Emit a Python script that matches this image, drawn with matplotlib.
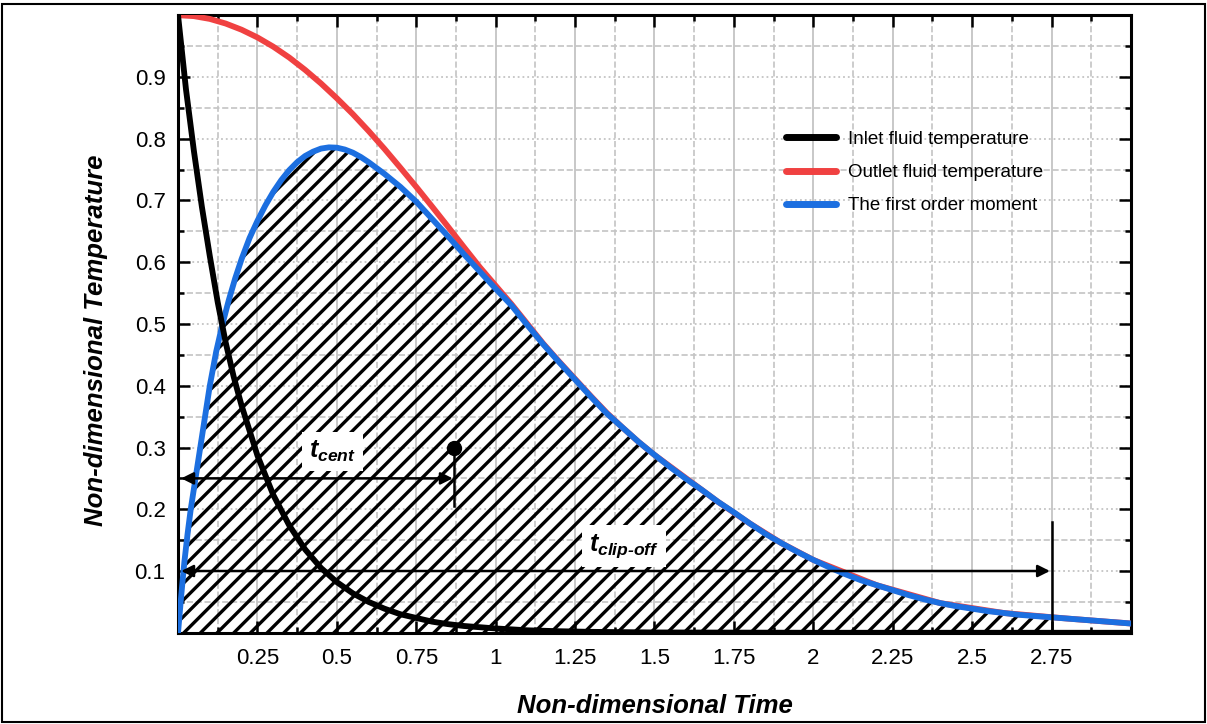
import numpy as np
import matplotlib
matplotlib.use('Agg')
import matplotlib.pyplot as plt
from matplotlib.patches import Rectangle
from matplotlib.ticker import MultipleLocator, FormatStrFormatter

plt.rcParams['font.family'] = ['Liberation Sans', 'DejaVu Sans']
plt.rcParams['mathtext.fontset'] = 'custom'
plt.rcParams['mathtext.it'] = 'Liberation Sans:bold:italic'
plt.rcParams['mathtext.rm'] = 'Liberation Sans:bold:italic'
plt.rcParams['hatch.linewidth'] = 2.4

# inlet fluid temperature (fast decay)
t_inlet = [0.0, 0.025, 0.05, 0.075, 0.1, 0.125, 0.15, 0.175, 0.2, 0.25, 0.3,
           0.35, 0.4, 0.45, 0.5, 0.55, 0.6, 0.65, 0.7, 0.75, 0.8, 0.85, 0.9,
           1.0, 1.1, 1.2, 1.3, 1.5, 2.0, 3.0]
T_inlet = [1.0, 0.88, 0.78, 0.69, 0.61, 0.535, 0.47, 0.415, 0.368, 0.287, 0.223,
           0.174, 0.135, 0.105, 0.082, 0.064, 0.050, 0.039, 0.030, 0.024, 0.018,
           0.014, 0.011, 0.007, 0.004, 0.0025, 0.0015, 0.0005, 0.0, 0.0]

# outlet fluid temperature
t_outlet = [0.0, 0.05, 0.1, 0.15, 0.2, 0.25, 0.3, 0.35, 0.4, 0.45, 0.5, 0.55,
            0.6, 0.65, 0.7, 0.75, 0.8, 0.85, 0.9, 0.95, 1.0, 1.05, 1.1, 1.15,
            1.2, 1.25, 1.3, 1.35, 1.4, 1.45, 1.5, 1.6, 1.7, 1.8, 1.9, 2.0,
            2.2, 2.4, 2.6, 2.8, 3.0]
T_outlet = [1.0, 0.9985, 0.994, 0.9865, 0.9765, 0.964, 0.949, 0.9315, 0.9115,
            0.8895, 0.8655, 0.840, 0.8125, 0.7835, 0.753, 0.722, 0.690, 0.6575,
            0.6245, 0.592, 0.562, 0.532, 0.500, 0.468, 0.439, 0.411, 0.383, 0.356,
            0.332, 0.309, 0.288, 0.250, 0.212, 0.177, 0.145, 0.118, 0.077, 0.048,
            0.032, 0.023, 0.015]

# first order moment
t_moment = [0.0, 0.01, 0.02, 0.03, 0.04, 0.055, 0.07, 0.085, 0.1, 0.12, 0.14,
            0.16, 0.18, 0.2, 0.225, 0.25, 0.275, 0.3, 0.325, 0.35, 0.375, 0.4,
            0.425, 0.45, 0.475, 0.5, 0.525, 0.55, 0.575, 0.6, 0.65, 0.7, 0.75,
            0.8, 0.85, 0.9, 0.95, 1.0, 1.05, 1.1, 1.15, 1.2, 1.25, 1.3, 1.35,
            1.4, 1.45, 1.5, 1.55, 1.6, 1.65, 1.7, 1.75, 1.8, 1.85, 1.9, 1.95,
            2.0, 2.05, 2.1, 2.15, 2.2, 2.25, 2.3, 2.35, 2.4, 2.45, 2.5, 2.55,
            2.6, 2.65, 2.7, 2.75, 2.8, 2.85, 2.9, 2.95, 3.0]
T_moment = [0.0, 0.06, 0.115, 0.16, 0.20, 0.25, 0.30, 0.35, 0.40, 0.455, 0.50,
            0.539, 0.574, 0.605, 0.639, 0.667, 0.692, 0.714, 0.733, 0.749, 0.762,
            0.772, 0.779, 0.784, 0.786, 0.7855, 0.7825, 0.7775, 0.7705, 0.762,
            0.743, 0.722, 0.698, 0.670, 0.642, 0.613, 0.585, 0.557, 0.530, 0.498,
            0.467, 0.438, 0.410, 0.382, 0.355, 0.332, 0.309, 0.288, 0.268, 0.249,
            0.231, 0.212, 0.195, 0.177, 0.160, 0.145, 0.131, 0.118, 0.106, 0.095,
            0.085, 0.077, 0.069, 0.061, 0.054, 0.048, 0.043, 0.039, 0.035, 0.032,
            0.029, 0.027, 0.025, 0.023, 0.021, 0.019, 0.017, 0.015]

t_cent = 0.87
t_clip = 2.75

fig = plt.figure(figsize=(12.07, 7.24), dpi=100)
ax = fig.add_axes([0.1475, 0.126, 0.7895, 0.853])

t_m = np.array(t_moment)
T_m = np.array(T_moment)
area = ax.fill_between(t_m, 0, T_m, where=t_m <= t_clip, facecolor='none',
                       edgecolor='black', hatch='//', linewidth=0, zorder=1)
if hasattr(area, 'set_hatch_linewidth'):
    area.set_hatch_linewidth(2.4)

ax.plot(t_outlet, T_outlet, color='#f04141', lw=4.2, zorder=3,
        label='Outlet fluid temperature', solid_capstyle='round')
ax.plot(t_moment, T_moment, color='#1c6fe0', lw=4.2, zorder=4,
        label='The first order moment', solid_capstyle='round')
ax.plot(t_inlet, T_inlet, color='black', lw=4.2, zorder=5,
        label='Inlet fluid temperature', solid_capstyle='round')

# centroid time marker and arrow
ax.plot([t_cent, t_cent], [0.205, 0.30], color='black', lw=1.8, zorder=6)
ax.plot(t_cent, 0.30, 'o', color='black', ms=10, zorder=6)
ax.annotate('', xy=(t_cent - 0.005, 0.25), xytext=(0.01, 0.25),
            arrowprops=dict(arrowstyle='<|-|>', color='black', lw=1.8,
                            mutation_scale=18, shrinkA=0, shrinkB=0), zorder=6)
ax.text(0.485, 0.293, r'$t_{cent}$', fontsize=18, ha='center', va='center',
        bbox=dict(facecolor='white', edgecolor='none', pad=5), zorder=7)

# clip-off time marker and arrow
ax.plot([t_clip, t_clip], [0.0, 0.18], color='black', lw=1.8, zorder=6)
ax.annotate('', xy=(t_clip - 0.005, 0.1), xytext=(0.01, 0.1),
            arrowprops=dict(arrowstyle='<|-|>', color='black', lw=1.8,
                            mutation_scale=18, shrinkA=0, shrinkB=0), zorder=6)
ax.text(1.405, 0.14, r'$t_{clip\text{-}off}$', fontsize=18, ha='center', va='center',
        bbox=dict(facecolor='white', edgecolor='none', pad=5), zorder=7)

ax.set_xlim(0, 3)
ax.set_ylim(0, 1)
ax.set_xticks(np.arange(0.25, 2.76, 0.25))
ax.xaxis.set_minor_locator(MultipleLocator(0.125))
ax.set_yticks(np.arange(0.1, 0.91, 0.1))
ax.yaxis.set_minor_locator(MultipleLocator(0.05))
ax.xaxis.set_major_formatter(FormatStrFormatter('%g'))
ax.yaxis.set_major_formatter(FormatStrFormatter('%.1f'))

ax.set_axisbelow(True)
ax.xaxis.grid(True, which='major', color='#c4c4c4', ls='-', lw=1.3)
ax.xaxis.grid(True, which='minor', color='#c4c4c4', ls='--', lw=1.2)
ax.yaxis.grid(True, which='major', color='#c4c4c4', ls=':', lw=1.3)
ax.yaxis.grid(True, which='minor', color='#c4c4c4', ls='--', lw=1.2)

ax.tick_params(which='both', direction='in', top=True, right=True, width=1.8)
ax.tick_params(which='major', length=8.5, labelsize=16)
ax.tick_params(axis='x', which='major', pad=11)
ax.tick_params(axis='y', which='major', pad=9)
ax.tick_params(which='minor', length=4.3)
for s in ax.spines.values():
    s.set_linewidth(2.2)

ax.set_xlabel('Non-dimensional Time', fontsize=18.5, fontweight='bold',
              fontstyle='italic', labelpad=18)
ax.set_ylabel('Non-dimensional Temperature', fontsize=18.5, fontweight='bold',
              fontstyle='italic')
ax.yaxis.set_label_coords(-0.0735, 0.474)

handles, labels = ax.get_legend_handles_labels()
order = [2, 0, 1]
leg = ax.legend([handles[i] for i in order], [labels[i] for i in order],
                loc='upper left', bbox_to_anchor=(0.62, 0.84), frameon=False,
                fontsize=13.5, handlelength=2.7, labelspacing=0.85, handletextpad=0.6)
for line in leg.get_lines():
    line.set_linewidth(5)

fig.patches.append(Rectangle((0.002, 0.003), 0.996, 0.992, transform=fig.transFigure,
                             fill=False, edgecolor='black', lw=1.5))

fig.savefig('out.png', dpi=100)
